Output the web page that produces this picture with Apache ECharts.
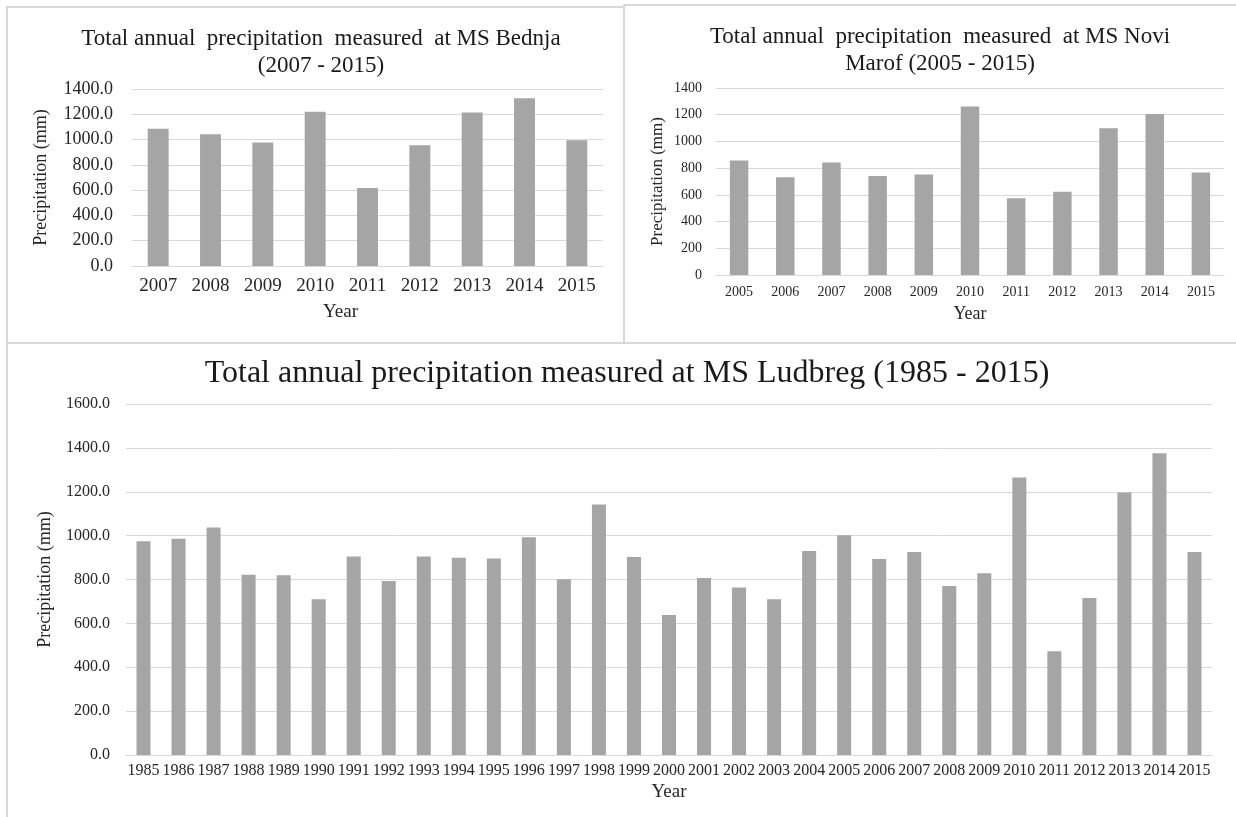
<!DOCTYPE html>
<html>
<head>
<meta charset="utf-8">
<title>Total annual precipitation</title>
<script src="https://cdn.jsdelivr.net/npm/echarts@6/dist/echarts.min.js"></script>
<style>
  html, body { margin: 0; padding: 0; background: #fff; }
  #chart { width: 1236px; height: 817px; }
</style>
</head>
<body>
<div id="chart"></div>
<script>
// data (mm)
const bednjaYears = ['2007', '2008', '2009', '2010', '2011', '2012', '2013', '2014', '2015'];
const bednjaValues = [1085, 1043, 977, 1220, 617, 955, 1215, 1326, 995];

const maroofYears = ['2005', '2006', '2007', '2008', '2009', '2010', '2011', '2012', '2013', '2014', '2015'];
const maroofValues = [858, 731, 843, 741, 753, 1261, 574, 624, 1099, 1206, 768];

const ludbregYears = [
  '1985', '1986', '1987', '1988', '1989', '1990', '1991', '1992', '1993', '1994', '1995',
  '1996', '1997', '1998', '1999', '2000', '2001', '2002', '2003', '2004', '2005', '2006',
  '2007', '2008', '2009', '2010', '2011', '2012', '2013', '2014', '2015'
];
const ludbregValues = [
  974, 986, 1037, 822, 819, 710, 905, 793, 905, 899, 896,
  993, 801, 1142, 902, 638, 807, 764, 710, 930, 1002, 893,
  925, 770, 828, 1265, 473, 716, 1197, 1376, 925
];

const FONT = "'Liberation Serif', 'Times New Roman', serif";
const TEXT = '#262626';
const GRID_LINE = '#d9d9d9';
const BAR = '#a5a5a5';
const oneDecimal = v => v.toFixed(1);
const plain = v => String(v);

function xAxisFor(idx, years, fontSize, margin, nameGap, nameSize, namePadding) {
  return {
    type: 'category',
    gridIndex: idx,
    data: years,
    name: 'Year',
    nameLocation: 'middle',
    nameGap: nameGap,
    nameTextStyle: { fontFamily: FONT, fontSize: nameSize, color: TEXT, padding: namePadding || 0 },
    axisLine: { lineStyle: { color: GRID_LINE, width: 1 } },
    axisTick: { show: false },
    axisLabel: { interval: 0, margin: margin, fontFamily: FONT, fontSize: fontSize, color: TEXT, hideOverlap: false },
    splitLine: { show: false }
  };
}

function yAxisFor(idx, max, fontSize, margin, nameGap, nameSize, formatter) {
  return {
    type: 'value',
    gridIndex: idx,
    min: 0,
    max: max,
    interval: 200,
    name: 'Precipitation (mm)',
    nameLocation: 'middle',
    nameGap: nameGap,
    nameTextStyle: { fontFamily: FONT, fontSize: nameSize, color: TEXT },
    axisLine: { show: false },
    axisTick: { show: false },
    axisLabel: { margin: margin, fontFamily: FONT, fontSize: fontSize, color: TEXT, formatter: formatter },
    splitLine: { lineStyle: { color: GRID_LINE, width: 1 } }
  };
}

function barSeries(idx, values) {
  return {
    type: 'bar',
    xAxisIndex: idx,
    yAxisIndex: idx,
    data: values,
    barCategoryGap: '60%',
    itemStyle: { color: BAR },
    silent: true
  };
}

const chart = echarts.init(document.getElementById('chart'), null, { renderer: 'canvas' });

const option = {
  backgroundColor: '#fff',
  animation: false,
  title: [
    {
      text: 'Total annual  precipitation  measured  at MS Bednja\n(2007 - 2015)',
      left: 316, top: 20, textAlign: 'center',
      textStyle: { fontFamily: FONT, fontSize: 23, fontWeight: 'normal', color: '#1a1a1a', lineHeight: 27 }
    },
    {
      text: 'Total annual  precipitation  measured  at MS Novi\nMarof (2005 - 2015)',
      left: 935, top: 18, textAlign: 'center',
      textStyle: { fontFamily: FONT, fontSize: 23, fontWeight: 'normal', color: '#1a1a1a', lineHeight: 27 }
    },
    {
      text: 'Total annual precipitation measured at MS Ludbreg (1985 - 2015)',
      left: 622, top: 353, textAlign: 'center',
      textStyle: { fontFamily: FONT, fontSize: 32, fontWeight: 'normal', color: '#1a1a1a' }
    }
  ],
  grid: [
    { left: 132, top: 89, width: 471, height: 177 },
    { left: 716, top: 88, width: 508, height: 187 },
    { left: 126, top: 404, width: 1086, height: 351 }
  ],
  xAxis: [
    xAxisFor(0, bednjaYears, 19, 11, 37, 19, [0, 54, 0, 0]),
    xAxisFor(1, maroofYears, 14, 10, 30, 18),
    xAxisFor(2, ludbregYears, 16, 8, 28, 19)
  ],
  yAxis: [
    yAxisFor(0, 1400, 18, 19, 82, 18, oneDecimal),
    yAxisFor(1, 1400, 14, 14, 50, 17, plain),
    yAxisFor(2, 1600, 16, 16, 72, 18, oneDecimal)
  ],
  series: [
    barSeries(0, bednjaValues),
    barSeries(1, maroofValues),
    barSeries(2, ludbregValues)
  ],
  // panel frames
  graphic: [
    { type: 'rect', shape: { x: 7, y: 7, width: 617, height: 336 }, style: { fill: 'none', stroke: GRID_LINE, lineWidth: 2 }, silent: true },
    { type: 'rect', shape: { x: 624, y: 5, width: 616, height: 338 }, style: { fill: 'none', stroke: GRID_LINE, lineWidth: 2 }, silent: true },
    { type: 'rect', shape: { x: 7, y: 343, width: 1234, height: 480 }, style: { fill: 'none', stroke: GRID_LINE, lineWidth: 2 }, silent: true }
  ]
};

chart.setOption(option);
</script>
</body>
</html>
